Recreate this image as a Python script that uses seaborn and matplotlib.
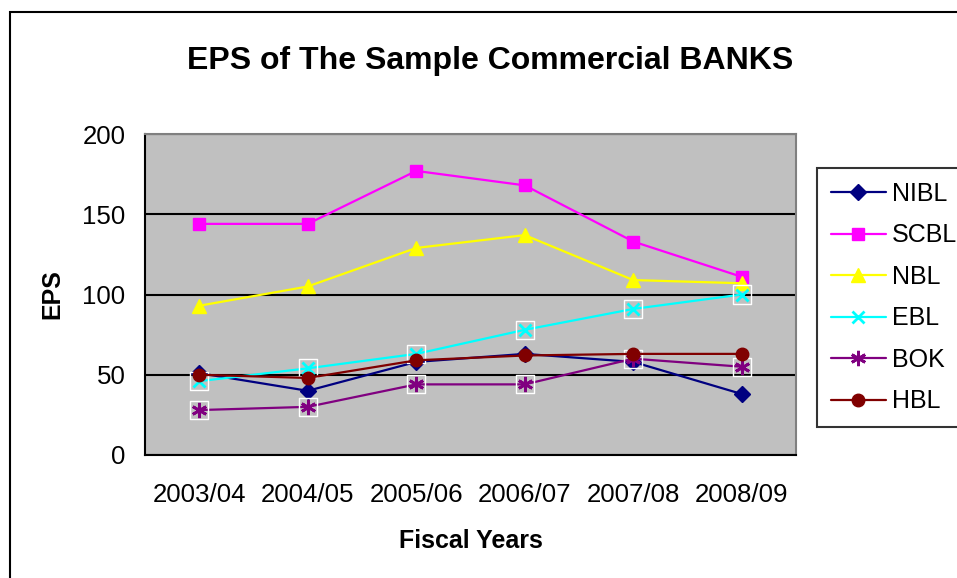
import matplotlib
matplotlib.use("Agg")
import matplotlib.pyplot as plt
from matplotlib.patches import Rectangle
import seaborn as sns
import pandas as pd

# Fiscal years and earnings per share of each bank
years = ["2003/04", "2004/05", "2005/06", "2006/07", "2007/08", "2008/09"]
nibl = [51, 40, 58, 63, 58, 38]
scbl = [144, 144, 177, 168, 133, 111]
nbl = [93, 105, 129, 137, 109, 107]
ebl = [46, 54, 63, 78, 91, 100]
bok = [28, 30, 44, 44, 60, 55]
hbl = [50, 48, 59, 62, 63, 63]

banks = ["NIBL", "SCBL", "NBL", "EBL", "BOK", "HBL"]
series = [nibl, scbl, nbl, ebl, bok, hbl]
colors = ["#000080", "#FF00FF", "#FFFF00", "#00FFFF", "#800080", "#800000"]
markers = ["D", "s", "^", "x", (6, 2, 0), "o"]
msizes = [8, 8.5, 9.5, 9, 11, 9]

df = pd.DataFrame(
    [(b, y, v) for b, vals in zip(banks, series) for y, v in zip(years, vals)],
    columns=["Bank", "Year", "EPS"],
)

sns.set_style("white")
plt.rcParams["font.family"] = ["Liberation Sans", "DejaVu Sans"]
plt.rcParams["text.color"] = "black"
plt.rcParams["axes.labelcolor"] = "black"
plt.rcParams["xtick.color"] = "black"
plt.rcParams["ytick.color"] = "black"

fig = plt.figure(figsize=(9.57, 5.78), dpi=100)
ax = fig.add_axes([145 / 957, 1 - 455 / 578, 651 / 957, 321 / 578])
ax.set_facecolor("#C0C0C0")

# outer chart frame
fig.patches.append(Rectangle((10 / 957, -0.1), 1.2, 1 - 12 / 578 + 0.1,
                             transform=fig.transFigure, fill=False,
                             edgecolor="black", linewidth=1.5, zorder=0))

for i, (bank, col, mk, ms) in enumerate(zip(banks, colors, markers, msizes)):
    sub = df[df["Bank"] == bank]
    sns.lineplot(data=sub, x="Year", y="EPS", ax=ax, color=col, marker=mk,
                 markersize=ms, markeredgecolor=col,
                 markeredgewidth=2 if mk in ("x", (6, 2, 0)) else 1,
                 linewidth=1.6, label=bank, zorder=3 + i)
    if bank in ("EBL", "BOK"):
        sns.scatterplot(data=sub, x="Year", y="EPS", ax=ax, marker="s", s=170,
                        facecolor="none", edgecolor="white", linewidth=1.0,
                        zorder=3 + i, legend=False)

ax.set_ylim(0, 200)
ax.set_xlim(-0.5, len(years) - 0.5)
ax.set_yticks([0, 50, 100, 150, 200])
ax.yaxis.grid(True, color="black", linewidth=1.5)
ax.set_axisbelow(True)

ax.set_xticks(range(len(years)))
ax.set_xticklabels(years)
ax.set_xticks([x - 0.5 for x in range(len(years) + 1)], minor=True)
ax.tick_params(axis="x", which="major", length=0, pad=20, labelsize=18.6)
ax.tick_params(axis="x", which="minor", length=7, width=1.5, direction="out", color="black")
ax.tick_params(axis="y", length=8, width=1.5, direction="out", color="black", pad=6, labelsize=18.6)

for side in ("left", "bottom"):
    ax.spines[side].set_color("black")
    ax.spines[side].set_linewidth(1.5)
for side in ("top", "right"):
    ax.spines[side].set_color("#808080")
    ax.spines[side].set_linewidth(1.5)

ax.set_xlabel("Fiscal Years", fontsize=18, fontweight="bold", labelpad=16)
ax.set_ylabel("EPS", fontsize=18, fontweight="bold", labelpad=13)
ax.set_title("EPS of The Sample Commercial BANKS", fontsize=23, fontweight="bold",
             x=(490 - 145) / 651, y=1.0, pad=47)

leg = ax.legend(loc="upper left", bbox_to_anchor=(817 / 957, 1 - 168 / 578),
                bbox_transform=fig.transFigure, fontsize=18, frameon=True,
                fancybox=False, edgecolor="black", handlelength=2.2,
                handletextpad=0.25, labelspacing=0.7, borderpad=0.55,
                borderaxespad=0)
leg.get_frame().set_linewidth(1.5)

fig.savefig("out.png", dpi=100, facecolor="white")
